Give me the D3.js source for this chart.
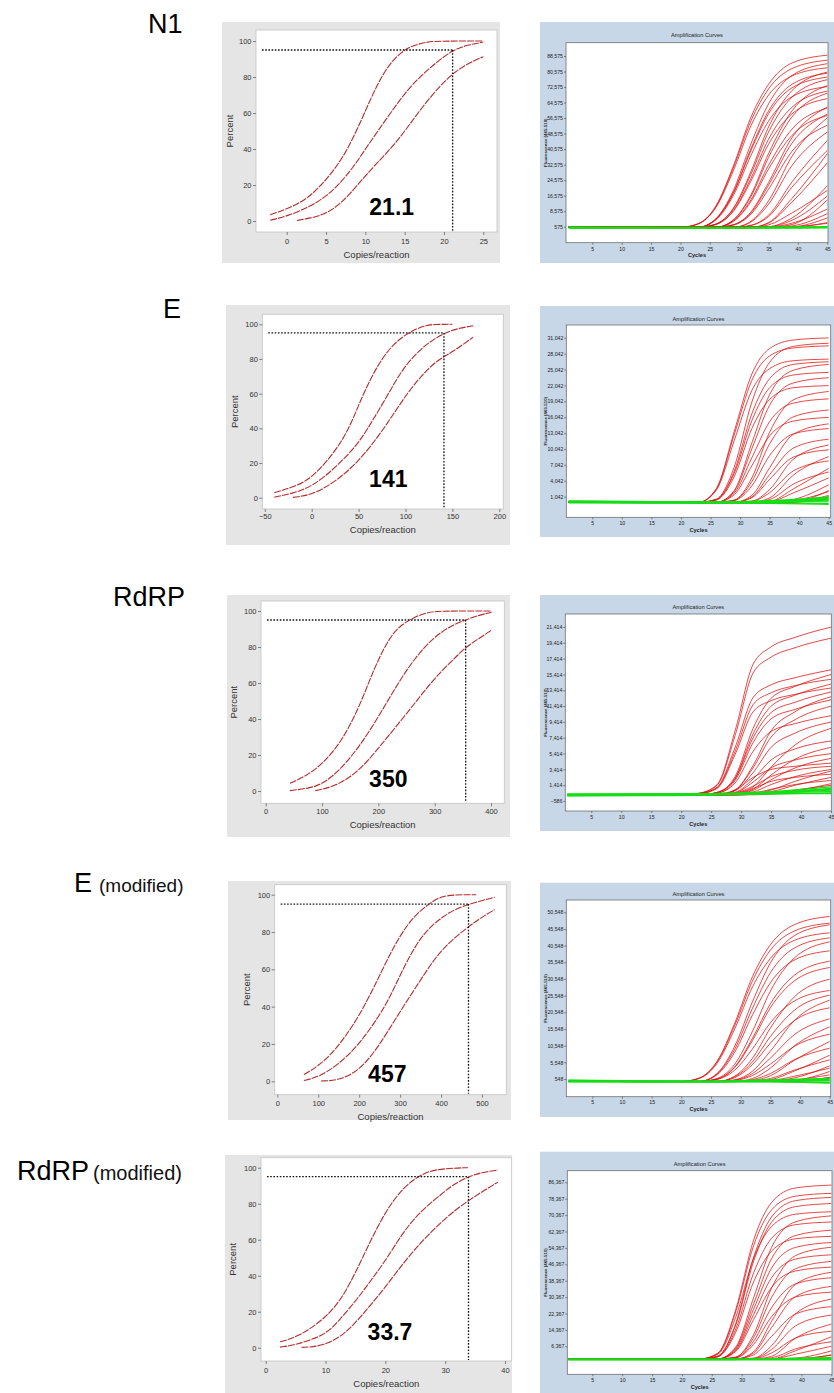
<!DOCTYPE html>
<html><head><meta charset="utf-8">
<script src="https://cdn.jsdelivr.net/npm/d3@7/dist/d3.min.js"></script>
<style>body{margin:0;background:#fff}svg{display:block}</style>
</head><body>
<svg id="chart" width="834" height="1393"></svg>
<script>
// ---------------- DATA ----------------
const rowNames = ["N1", "E", "RdRP", "E", "RdRP"];
const rowSuffix = ["", "", "", "(modified)", "(modified)"];

const probitYTicks = [0, 20, 40, 60, 80, 100];
const n1XTicks = [0, 5, 10, 15, 20, 25];
const eXTicks = [-50, 0, 50, 100, 150, 200];
const rXTicks = [0, 100, 200, 300, 400];
const emXTicks = [0, 100, 200, 300, 400, 500];
const rmXTicks = [0, 10, 20, 30, 40];

const lodValues = [21.1, 141, 355, 467, 33.9];
const lodLabels = ["21.1", "141", "350", "457", "33.7"];

// probit fits: [copies/reaction, percent]
const n1Upper = [[-2.1,3.5],[0,6.5],[2.5,12],[4.2,19],[6,28],[7.8,40],[9.7,58],[11.4,75],[13,87],[14.6,94],[16,97.5],[17.8,99.4],[19.1,100],[25,100]];
const n1Mid = [[-2.1,0.4],[0,2.6],[3,8],[5,13.7],[6.6,20],[8.5,30],[10,40],[11.6,50],[13.2,60],[15,71],[16.9,80],[19,88],[21.1,95],[23,97.8],[25,99.4]];
const n1Lower = [[1.3,0.3],[3,1.5],[5,4],[7,10],[9,20],[11,30],[13.2,40],[15,49.7],[17,62],[20,78],[22.5,86.5],[25,91.3]];

const eUpper = [[-40,2.9],[-20,6],[0,11],[25,26.5],[40,40],[50,53.5],[62,68],[75,80.4],[88,89],[100,94],[112,97.5],[122,99.4],[130,100],[150,100]];
const eMid = [[-40,0.3],[-20,2.5],[0,6.3],[25,17],[50,31.3],[62,42],[75,53.5],[88,66],[100,76.5],[120,88],[141,95],[155,97.5],[172,99.2]];
const eLower = [[-20,0.2],[0,1.5],[25,9],[50,20.8],[75,38],[100,59],[115,69],[128,76.5],[141,81.5],[150,84],[172,92.5]];

const rUpper = [[43,4.3],[70,8],[99,14.4],[135,27.4],[165,46],[185,62],[200,73],[218,84],[235,91],[265,97],[290,99.3],[306,100],[401,100]];
const rMid = [[43,0.2],[76,1.5],[99,3.5],[130,11],[165,24],[200,41],[235,60],[265,74],[299,85.7],[330,92],[355,95],[380,97.8],[401,99.3]];
const rLower = [[88,0.2],[123,2.4],[165,10.7],[200,23.7],[253,44],[299,62.6],[330,72],[355,80],[380,85],[401,89.4]];

const emUpper = [[65,3.6],[99,8],[140,16],[199,34],[246,55],[275,68],[300,78],[325,86],[352,92],[380,96.5],[400,99],[433,100],[486,100]];
const emMid = [[65,0.4],[99,2.1],[150,9],[199,19.6],[246,34],[275,45],[300,57],[335,72],[368,82],[420,91],[467,95],[531,98.6]];
const emLower = [[107,0.2],[148,0.4],[199,5.4],[246,18],[300,37.5],[352,55],[400,71],[467,83],[500,88],[531,92]];

const rmUpper = [[2.4,3.3],[5.4,6],[9.9,16],[13.2,29],[16.6,53],[19.9,75.5],[23.2,90],[26.6,97.8],[29.9,99.6],[33.8,100]];
const rmMid = [[2.4,0.3],[5,1.5],[9.9,7],[12,14],[15.4,27.4],[17.5,37],[19.9,47.8],[22,59],[24.3,70],[27,79],[29.9,86.7],[31.5,91],[33.9,95],[36,97.3],[38.8,98.7]];
const rmLower = [[6,0.2],[9.3,0.6],[13.2,7],[16.6,20],[19.9,33],[24.3,53],[29.9,72],[33.9,82],[38.8,92]];

// amplification curves (fluorescence in thousands)
const ampXTicks = [5, 10, 15, 20, 25, 30, 35, 40, 45];
const ampLead = [1, 20];                 // cycles where curves sit at baseline
const ampKnots = [23, 26, 29, 32, 35, 39, 45];
const greenKnots = [1, 15, 25, 35, 45];
const ampBaseline = [0.3, 0, 0.2, -0.2, 0.2];

const n1YTicks = [575, 8575, 16575, 24575, 32575, 40575, 48575, 56575, 64575, 72575, 80575, 88575];
const eYTicks = [1042, 4042, 7042, 10042, 13042, 16042, 19042, 22042, 25042, 28042, 31042];
const rYTicks = [-586, 1414, 3414, 5414, 7414, 9414, 11414, 13414, 15414, 17414, 19414, 21414];
const emYTicks = [548, 5548, 10548, 15548, 20548, 25548, 30548, 35548, 40548, 45548, 50548];
const rmYTicks = [6367, 14367, 22367, 30367, 38367, 46367, 54367, 62367, 70367, 78367, 86367];

const n1Red = [
[2.1,11.1,31.8,57,74,85,89],[2,10.7,30.8,55.1,71.6,82.1,86.4],[.3,4.6,19.2,43.3,63.9,78.6,84.6],
[2,10.3,29.4,52.6,68.4,78.3,82.5],[.3,4.4,18.1,40.8,60.2,74,79.7],[.3,1.9,10.1,29,52,70.8,80.3],
[.3,4.3,17.7,39.8,58.8,72.2,77.7],[.3,1.9,9.7,27.6,49.4,67.4,76.4],[.3,.3,4.1,17,38.3,60.3,73.3],
[.3,4,16.6,37.3,55,67.6,72.8],[.3,1.7,8.9,25.5,45.7,62.2,70.5],[.3,.3,3.9,16.1,36.3,57.2,69.4],
[.3,1.7,8.5,24.1,43.1,58.8,66.6],[.3,.3,1.6,8.2,23.4,46.5,62.3],[.3,.3,3.5,14.4,32.3,50.9,61.7],
[.3,.3,1.5,7.7,22,43.7,58.6],[.3,.3,3.3,13.5,30.3,47.7,57.9],[.3,.3,.3,3.4,13.9,36.9,56.7],
[.3,.3,1.4,7,19.9,39.5,52.9],[.3,.3,.3,3,12.2,32.2,49.4],[.3,.3,.3,1.3,6.5,23.7,45],
[.3,.3,.3,1.2,5.8,21,39.9],[.3,.3,.3,.3,2.7,15.2,38.2],[.3,.3,.3,.3,2.4,13.3,33.5],
[.3,.3,.3,.3,.6,5.1,21.7],[.3,.3,.3,.3,1.5,7.7,19.3],[.3,.3,.3,.3,.5,3.9,16.4],
[.3,.3,.3,.3,.3,1.7,14.3],[.3,.3,.3,.3,.4,2.4,9.7],[.3,.3,.3,.3,.3,1,7.3],
[.3,.3,.3,.3,.3,.5,5.1],[.3,.3,.3,.3,.3,.4,2.7],[.3,.3,.3,.3,.3,.5,2.3]
];
const eRed = [
[0,2.6,13.3,24.2,29,30.6,31],[0,2.5,12.7,23,27.6,29.1,29.5],[0,.6,6.6,18.9,26.4,29.4,30],
[0,2.3,11.6,21.1,25.2,26.7,27],[0,.5,5.8,16.7,23.3,26,26.5],[0,0,2.2,11.2,20.3,24.9,26],
[0,.5,5.4,15.4,21.6,24,24.5],[0,0,2,10.1,18.3,22.5,23.5],[0,.4,4.8,13.9,19.4,21.6,22],
[0,0,.4,4.6,13.2,19.3,20.9],[0,0,1.7,8.4,15.2,18.7,19.5],[0,0,.35,3.9,11,16.1,17.4],
[0,0,1.4,6.9,12.5,15.3,16],[0,0,0,1.3,6.5,12.8,14.8],[0,0,.3,3.1,8.8,12.9,13.9],
[0,0,0,1,5.2,10.2,11.9],[0,0,0,.2,2.4,8.1,10.8],[0,0,0,.85,4.3,8.5,9.9],
[0,0,0,0,.8,5.1,8.6],[0,0,0,.16,1.8,5.9,7.8],[0,0,0,0,.14,2.5,6.4],
[0,0,0,0,.5,3.4,5.7],[0,0,0,0,.1,1.75,4.6],[0,0,0,0,0,.5,3.3],
[0,0,0,0,0,.07,2.2],[0,0,0,0,0,.3,2],[0,0,0,0,0,0,1.05],[0,0,0,0,0,.04,1.3]
];
const rRed = [
[.4,1.5,8.3,16.7,18.9,20.1,21.4],[.4,1.4,7.7,15.6,17.6,18.8,20],[.35,1.15,6.2,12.5,14.1,15,16],
[.2,.5,2.5,8.6,12.4,13.9,15.4],[.35,1.1,5.7,11.6,13.1,14,14.8],[.2,.5,2.3,7.9,11.4,12.8,14.2],
[.3,1,5.3,10.7,12.1,12.9,13.7],[.2,.5,2.2,7.4,10.6,11.9,13.2],[.2,.2,.8,3.9,8.3,10.7,12.6],
[.2,.4,2,6.8,9.8,11,12.2],[.2,.2,.8,3.6,7.5,9.7,11.4],[.2,.4,1.7,5.7,8.2,9.2,10.2],
[.2,.2,.7,3,6.2,8,9.4],[.2,.2,.4,1.2,3.7,6.5,8.6],[.2,.2,.5,2.2,4.6,6,7],
[.2,.2,.3,.9,2.7,4.7,6.2],[.2,.2,.45,1.8,3.6,4.6,5.4],[.2,.2,.3,.75,2.1,3.6,4.8],
[.2,.3,.8,2.4,3.4,3.8,4.2],[.2,.2,.4,1.3,2.5,3.3,3.8],[.2,.2,.25,.55,1.5,2.5,3.4],
[.2,.2,.2,.3,.8,1.9,3.2],[.2,.2,.3,1,1.9,2.4,2.8],[.2,.2,.2,.3,.6,1.4,2.4],
[.2,.2,.2,.4,.9,1.5,2],[.2,.2,.2,.2,.3,.7,1.6],[.2,.2,.2,.25,.4,.8,1.4]
];
const emRed = [
[.8,5.8,17.3,31.3,40.8,46.8,49.3],[.8,5.6,16.6,30,39.2,44.9,47.3],[-.2,2.2,10.4,23.8,35.3,43.5,46.8],
[.7,5.2,15.6,28.2,36.7,42.1,44.4],[-.2,2,9.5,21.8,32.4,39.8,42.9],[-.2,.7,5,14.9,26.9,36.8,41.7],
[-.2,1.8,8.6,19.8,29.4,36.2,39],[-.2,.5,4.2,12.8,23.1,31.6,35.9],[-.2,.5,4,12.1,21.9,29.9,34],
[-.2,-.2,1.4,6.8,15.8,25.1,30.5],[-.2,.4,3.2,9.6,17.4,23.9,27.1],[-.2,-.2,1.2,5.7,13.3,21.1,25.7],
[-.2,-.2,.3,2.9,8.9,18,24.2],[-.2,-.2,.95,4.9,11.3,18,21.9],[-.2,-.2,.2,2.2,6.8,13.8,18.6],
[-.2,-.2,-.2,.7,3.8,10.4,16.2],[-.2,-.2,.1,1.6,5,10.3,14],[-.2,-.2,-.2,.1,1.5,6.1,11.8],
[-.2,-.2,-.2,.35,2.2,6.3,9.8],[-.2,-.2,-.2,-.2,.3,2.9,7.7],[-.2,-.2,-.2,-.05,.7,3.2,6.3],
[-.2,-.2,-.2,-.2,-.1,.85,4.5],[-.2,-.2,-.2,-.2,.05,1.35,3.8],[-.2,-.2,-.2,-.2,-.2,.1,2.8],
[-.2,-.2,-.2,-.2,-.2,.25,1.8],[-.2,-.2,-.2,-.2,-.2,-.15,1],[-.2,-.2,-.2,-.2,-.2,-.1,1.05]
];
const rmRed = [
[.2,3,24.2,58.2,76.5,83.6,85],[.2,2.8,23.1,55.5,72.9,79.6,81],[.2,1.6,17.4,49.8,69.5,77.4,79],
[.2,1.5,16.7,47.9,66.9,74.5,76],[.2,2.5,20.5,49.3,64.8,70.8,72],[.2,.2,6,30.1,54.6,67.1,70],
[.2,1.3,14.7,42.2,59,65.7,67],[.2,.2,5.4,27.1,49.1,60.4,63],[.2,1.2,13.2,37.8,52.8,58.8,60],
[.2,.2,4.8,24.5,44.5,54.6,57],[.2,.2,1.1,12.1,34.7,50.6,54.7],[.2,.2,4.3,21.9,39.8,48.9,51],
[.2,.2,1,10.6,30.2,44.2,47.8],[.2,.2,3.8,19.4,35.1,43.1,45],[.2,.2,.2,3.7,18.5,36.6,42.5],
[.2,.2,.8,8.8,25.2,36.8,39.8],[.2,.2,.2,3.1,15.5,30.6,35.6],[.2,.2,.7,7.3,20.8,30.4,32.8],
[.2,.2,.2,.6,6.6,22.2,29.4],[.2,.2,.2,2.2,11.2,22.1,25.7],[.2,.2,.2,.45,4.8,16.3,21.6],
[.2,.2,.2,.2,1.5,10.3,17.2],[.2,.2,.2,.3,3.1,10.4,13.7],[.2,.2,.2,.2,.24,4.2,11],
[.2,.2,.2,.2,.77,5.1,8.6],[.2,.2,.2,.2,.2,2.5,6.4],[.2,.2,.2,.2,.2,.6,4.1],
[.2,.2,.2,.2,.2,.2,2.2],[.2,.2,.2,.2,.2,.3,2]
];

const n1Green = [[.1,.1,.05,.1,.2],[.2,.15,.1,.2,.35],[0,0,-.05,0,.1],[.3,.25,.2,.25,.4],[.15,.1,.1,.15,.3],[-.1,-.1,-.1,-.05,.05],[.25,.2,.15,.3,.5],[.05,0,0,.1,.25]];
const eGreen = [[.2,.1,0,.2,1.0],[.1,0,-.1,.1,.7],[0,-.1,-.15,0,.4],[.2,.1,.05,.3,.85],[-.1,-.15,-.2,-.2,-.4],[.15,.05,0,.1,.2],[0,-.05,-.1,-.1,-.2],[.1,0,0,.2,.55]];
const rGreen = [[.3,.3,.35,.6,1.2],[.2,.25,.3,.5,1.0],[.1,.15,.2,.4,.8],[.25,.3,.3,.45,.6],[.05,.1,.15,.3,.45],[.2,.2,.25,.5,.9],[.15,.15,.2,.35,.35]];
const emGreen = [[.2,0,-.1,.3,.7],[0,-.2,-.2,.1,.4],[-.2,-.3,-.3,-.2,-.5],[.1,-.1,-.1,.2,.2],[-.3,-.35,-.35,-.3,-.7],[-.1,-.2,-.25,0,0]];
const rmGreen = [[.1,.1,.1,.3,.8],[0,0,0,.1,.4],[-.1,-.1,-.1,0,0],[.05,.05,.05,.2,.6],[-.2,-.2,-.2,-.2,-.3]];

// ---------------- LAYOUT ----------------
const FONT = "'Liberation Sans', Arial, Helvetica, sans-serif";
const labelPos = [[148,33],[163,318],[113,606],[74,891.5],[17,1180]];
const suffixPos = [null, null, null, [99,891.5,19],[93,1180,20]];

const probitLayout = [
  {bg:[222,22,500,263], plot:[256,30,497,232], xr:[286.7,483.3], yr:[221,41], tickY:241, titleY:255, pctX:230, num:[391.7,215]},
  {bg:[226,305,510,545], plot:[262.3,314.3,503.3,509], xr:[264.8,499.3], yr:[497.7,324.3], tickY:516.7, titleY:530, pctX:235, num:[388.3,486.7]},
  {bg:[227,595,510,837], plot:[261,601,504.3,803.3], xr:[265.7,491], yr:[791,611], tickY:811.7, titleY:824.3, pctX:233.3, num:[388.3,786.7]},
  {bg:[228,881,511,1120], plot:[274.7,884.7,506.3,1094.7], xr:[277.3,482], yr:[1081.3,894.7], tickY:1103, titleY:1116.3, pctX:246.3, num:[387.3,1082]},
  {bg:[225,1155,512,1393], plot:[261,1157.7,511.7,1361], xr:[265.7,505], yr:[1347.7,1167.7], tickY:1370, titleY:1383.3, pctX:232.3, num:[390,1340]}
];
const ampLayout = [
  {bg:[540,22,834,263], plot:[566,42.7,828,242.7], xr:[592.3,827.3], yr:[226.7,56], titleY:35, tickY:249, cycY:255.5, fx:545},
  {bg:[540,306,834,537], plot:[566.3,325,830.7,517.3], xr:[592.3,828.7], yr:[496.7,337.7], titleY:319, tickY:522.7, cycY:530, fx:545},
  {bg:[540,595,834,831], plot:[565.3,614,831.3,811], xr:[591.3,831], yr:[801,627], titleY:607.3, tickY:817.3, cycY:824.3, fx:545},
  {bg:[540,882.7,834,1117], plot:[566.3,900,830.7,1096.7], xr:[592.3,829.7], yr:[1079,912.3], titleY:894, tickY:1101.7, cycY:1109.3, fx:545},
  {bg:[540,1151.7,834,1393], plot:[567.3,1170.7,832,1374.3], xr:[592.3,831.3], yr:[1346.3,1182.3], titleY:1164, tickY:1380, cycY:1387.3, fx:545}
];

const probitData = [
  {xTicks:n1XTicks, curves:[n1Upper,n1Mid,n1Lower]},
  {xTicks:eXTicks, curves:[eUpper,eMid,eLower]},
  {xTicks:rXTicks, curves:[rUpper,rMid,rLower]},
  {xTicks:emXTicks, curves:[emUpper,emMid,emLower]},
  {xTicks:rmXTicks, curves:[rmUpper,rmMid,rmLower]}
];
const ampData = [
  {yTicks:n1YTicks, red:n1Red, green:n1Green},
  {yTicks:eYTicks, red:eRed, green:eGreen},
  {yTicks:rYTicks, red:rRed, green:rGreen},
  {yTicks:emYTicks, red:emRed, green:emGreen},
  {yTicks:rmYTicks, red:rmRed, green:rmGreen}
];

// ---------------- DRAW ----------------
const svg = d3.select("#chart");
const defs = svg.append("defs");

function rect(g, b, fill) {
  return g.append("rect").attr("x", b[0]).attr("y", b[1]).attr("width", b[2]-b[0]).attr("height", b[3]-b[1]).attr("fill", fill);
}
function styleAxis(a, size, color) {
  a.select(".domain").remove();
  a.selectAll("line").attr("stroke", "#555").attr("stroke-width", 0.7);
  a.selectAll("text").attr("font-family", FONT).attr("font-size", size).attr("fill", color);
}

// row labels
rowNames.forEach((n, i) => {
  svg.append("text").attr("x", labelPos[i][0]).attr("y", labelPos[i][1])
    .attr("font-family", FONT).attr("font-size", 27).attr("fill", "#000").text(n);
  if (rowSuffix[i]) {
    const s = suffixPos[i];
    svg.append("text").attr("x", s[0]).attr("y", s[1]).attr("font-family", FONT)
      .attr("font-size", s[2]).attr("fill", "#111").text(rowSuffix[i]);
  }
});

function drawProbit(i) {
  const L = probitLayout[i], D = probitData[i];
  const g = svg.append("g");
  rect(g, L.bg, "#e5e5e5");
  rect(g, L.plot, "#fff").attr("stroke", "#c4c4c4").attr("stroke-width", 0.8);
  const x = d3.scaleLinear().domain(d3.extent(D.xTicks)).range(L.xr);
  const y = d3.scaleLinear().domain([0, 100]).range(L.yr);
  const ya = g.append("g").attr("transform", `translate(${L.plot[0]},0)`)
    .call(d3.axisLeft(y).tickValues(probitYTicks).tickSize(3).tickPadding(1.5));
  const xa = g.append("g").attr("transform", `translate(0,${L.plot[3]})`)
    .call(d3.axisBottom(x).tickValues(D.xTicks).tickSize(3));
  styleAxis(ya, 7.5, "#333");
  styleAxis(xa, 7.5, "#333");
  xa.selectAll("text").attr("y", L.tickY - L.plot[3]).attr("dy", "0.35em");

  const line = d3.line().x(d => x(d[0])).y(d => y(d[1])).curve(d3.curveBasis);
  D.curves.forEach(c => {
    g.append("path").attr("d", line(c)).attr("fill", "none")
      .attr("stroke", "#b42a2a").attr("stroke-width", 1.1).attr("stroke-dasharray", "7,1.1");
  });
  const lod = lodValues[i];
  g.append("line").attr("x1", L.plot[0] + 6).attr("x2", x(lod)).attr("y1", y(95)).attr("y2", y(95))
    .attr("stroke", "#111").attr("stroke-width", 1.3).attr("stroke-dasharray", "1.6,1.6");
  g.append("line").attr("x1", x(lod)).attr("x2", x(lod)).attr("y1", y(95)).attr("y2", L.plot[3] - 1)
    .attr("stroke", "#111").attr("stroke-width", 1.3).attr("stroke-dasharray", "1.6,1.6");

  g.append("text").attr("x", L.num[0]).attr("y", L.num[1]).attr("text-anchor", "middle")
    .attr("font-family", FONT).attr("font-weight", "bold").attr("font-size", 23).attr("fill", "#000")
    .text(lodLabels[i]);
  g.append("text").attr("x", (L.plot[0] + L.plot[2]) / 2).attr("y", L.titleY).attr("dy", "0.35em")
    .attr("text-anchor", "middle").attr("font-family", FONT).attr("font-size", 9.5).attr("fill", "#333")
    .text("Copies/reaction");
  const cy = (L.plot[1] + L.plot[3]) / 2;
  g.append("text").attr("transform", `translate(${L.pctX},${cy}) rotate(-90)`).attr("dy", "0.35em")
    .attr("text-anchor", "middle").attr("font-family", FONT).attr("font-size", 9.5).attr("fill", "#333")
    .text("Percent");
}

function drawAmp(i) {
  const L = ampLayout[i], D = ampData[i];
  const g = svg.append("g");
  rect(g, L.bg, "#c7d7e7");
  rect(g, L.plot, "#fff").attr("stroke", "#6f6f6f").attr("stroke-width", 0.8);
  const x = d3.scaleLinear().domain([ampXTicks[0], ampXTicks[ampXTicks.length - 1]]).range(L.xr);
  const y = d3.scaleLinear().domain([D.yTicks[0], D.yTicks[D.yTicks.length - 1]]).range(L.yr);
  const cx = (L.plot[0] + L.plot[2]) / 2;
  g.append("text").attr("x", cx).attr("y", L.titleY).attr("dy", "0.35em").attr("text-anchor", "middle")
    .attr("font-family", FONT).attr("font-size", 5.7).attr("fill", "#222").text("Amplification Curves");
  const ya = g.append("g").attr("transform", `translate(${L.plot[0]},0)`)
    .call(d3.axisLeft(y).tickValues(D.yTicks).tickFormat(d3.format(",")).tickSize(2).tickPadding(1));
  const xa = g.append("g").attr("transform", `translate(0,${L.plot[3]})`)
    .call(d3.axisBottom(x).tickValues(ampXTicks).tickSize(2));
  styleAxis(ya, 5.2, "#222");
  styleAxis(xa, 5.2, "#222");
  xa.selectAll("text").attr("y", L.tickY - L.plot[3]).attr("dy", "0.35em");
  g.append("text").attr("x", cx).attr("y", L.cycY).attr("dy", "0.35em").attr("text-anchor", "middle")
    .attr("font-family", FONT).attr("font-weight", "bold").attr("font-size", 5.6).attr("fill", "#222").text("Cycles");
  const cy = (L.plot[1] + L.plot[3]) / 2;
  g.append("text").attr("transform", `translate(${L.fx},${cy}) rotate(-90)`).attr("dy", "0.35em")
    .attr("text-anchor", "middle").attr("font-family", FONT).attr("font-weight", "bold")
    .attr("font-size", 4.4).attr("fill", "#222").text("Fluorescence (465-510)");

  const cid = "clipAmp" + i;
  defs.append("clipPath").attr("id", cid).append("rect")
    .attr("x", L.plot[0]).attr("y", L.plot[1]).attr("width", L.plot[2] - L.plot[0]).attr("height", L.plot[3] - L.plot[1]);
  const cg = g.append("g").attr("clip-path", `url(#${cid})`);
  const line = d3.line().x(d => x(d[0])).y(d => y(d[1] * 1000)).curve(d3.curveMonotoneX);
  const base = ampBaseline[i];
  D.red.forEach(v => {
    const pts = ampLead.map(c => [c, base]).concat(ampKnots.map((c, k) => [c, v[k]]));
    cg.append("path").attr("d", line(pts)).attr("fill", "none")
      .attr("stroke", "#dd1111").attr("stroke-width", 0.85).attr("stroke-opacity", 0.9);
  });
  D.green.forEach(v => {
    const pts = greenKnots.map((c, k) => [c, v[k]]);
    cg.append("path").attr("d", line(pts)).attr("fill", "none")
      .attr("stroke", "#16dd16").attr("stroke-width", 1.3);
  });
}

for (let i = 0; i < 5; i++) { drawProbit(i); drawAmp(i); }
</script></body></html>
